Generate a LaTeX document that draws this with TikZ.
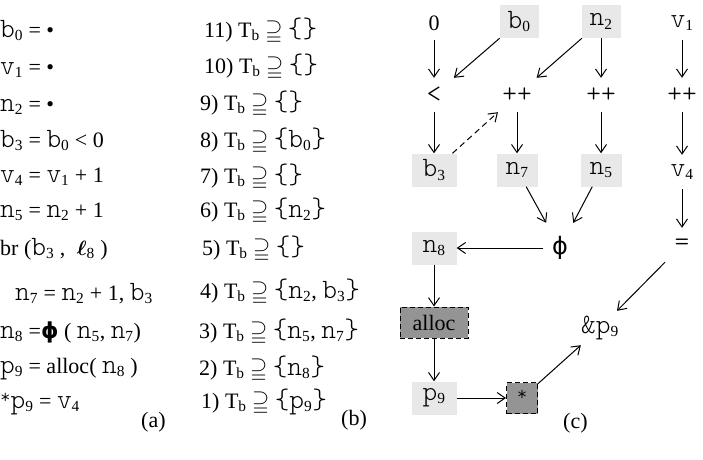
\documentclass[tikz,border=0pt]{standalone}
\usepackage{amssymb}
\usepackage{bm}
\usepackage{fontspec}
\setmainfont{Liberation Serif}
\newfontfamily\phifam{DejaVu Sans}
\usetikzlibrary{arrows.meta}
\newcommand\MT{\fontsize{28}{30}\ttfamily\fontseries{l}\selectfont}
\newcommand\VV[2]{{\MT #1}\textsubscript{#2}}
\newcommand\PHIB{{\phifam\bfseries ϕ}}
\newcommand\PHIR{{\phifam\fontsize{24}{26}\selectfont ϕ}}
\newcommand\SUPQ{$\supseteqq$}
\newcommand\LB{{\MT\{}}
\newcommand\RB{{\MT\}}}
\newcommand\AST{\raisebox{5pt}{\fontsize{20}{22}\ttfamily\fontseries{l}\selectfont*}}
\begin{document}
\begin{tikzpicture}[x=1pt,y=-1pt,font=\fontsize{22}{26}\selectfont,
  txt/.style={anchor=base west,inner sep=0pt},
  lbox/.style={fill=black!9,minimum height=33pt,inner sep=0pt},
  op/.style={minimum width=44pt,minimum height=34pt,inner sep=0pt},
  dbox/.style={fill=black!42,draw,dash pattern=on 5pt off 3pt,line width=1pt,inner sep=0pt,minimum height=31pt},
  arr/.style={-{Straight Barb[length=8pt,width=11pt]},line width=1pt}]
\useasboundingbox (0,0) rectangle (703,459);
% panel (a)
\node[txt] (a1) at (0,37) {\VV{b}{0} = \textbullet};
\node[txt] (a2) at (0,74) {\VV{v}{1} = \textbullet};
\node[txt] (a3) at (0,111) {\VV{n}{2} = \textbullet};
\node[txt] (a4) at (0,147) {\VV{b}{3} = \VV{b}{0} < 0};
\node[txt] (a5) at (0,182) {\VV{v}{4} = \VV{v}{1} + 1};
\node[txt] (a6) at (0,217) {\VV{n}{5} = \VV{n}{2} + 1};
\node[txt] (a7) at (0,255) {br (\VV{b}{3} ,\; {\boldmath$\ell$}\textsubscript{8} )};
\node[txt] (a8) at (15,300) {\VV{n}{7} = \VV{n}{2} + 1, \VV{b}{3}};
\node[txt] (a9) at (0,338) {\VV{n}{8} =\PHIB{} ( \VV{n}{5}, \VV{n}{7})};
\node[txt] (a10) at (0,373) {\VV{p}{9} = alloc( \VV{n}{8} )};
\node[txt] (a11) at (0,408) {\AST\VV{p}{9} = \VV{v}{4}};
\node[txt] (la) at (141,427) {(a)};
% panel (b)
\node[txt] (b11) at (204,37) {11) T\textsubscript{b} \SUPQ{} \LB\RB};
\node[txt] (b10) at (204,73) {10) T\textsubscript{b} \SUPQ{} \LB\RB};
\node[txt] (b9) at (200,110) {9) T\textsubscript{b} \SUPQ{} \LB\RB};
\node[txt] (b8) at (200,147) {8) T\textsubscript{b} \SUPQ{} \LB\VV{b}{0}\RB};
\node[txt] (b7) at (200,183) {7) T\textsubscript{b} \SUPQ{} \LB\RB};
\node[txt] (b6) at (200,217) {6) T\textsubscript{b} \SUPQ{} \LB\VV{n}{2}\RB};
\node[txt] (b5) at (202,255) {5) T\textsubscript{b} \SUPQ{} \LB\RB};
\node[txt] (b4) at (200,298) {4) T\textsubscript{b} \SUPQ{} \LB\VV{n}{2}, \VV{b}{3}\RB};
\node[txt] (b3l) at (199,338) {3) T\textsubscript{b} \SUPQ{} \LB\VV{n}{5}, \VV{n}{7}\RB};
\node[txt] (b2) at (199,375) {2) T\textsubscript{b} \SUPQ{} \LB\VV{n}{8}\RB};
\node[txt] (b1) at (201,408) {1) T\textsubscript{b} \SUPQ{} \LB\VV{p}{9}\RB};
\node[txt] (lb) at (341,425) {(b)};
% panel (c)
\node[op] (zero) at (434,23) {0};
\node[lbox,minimum width=39pt] (b0) at (519,21.5) {\VV{b}{0}};
\node[lbox,minimum width=39pt] (n2) at (601,21.5) {\VV{n}{2}};
\node[op] (v1) at (682,23) {\VV{v}{1}};
\node[op] (lt) at (434,95) {\MT <};
\node[op] (pp2) at (517,95) {\MT ++};
\node[op] (pp3) at (601,95) {\MT ++};
\node[op] (pp4) at (682,95) {\MT ++};
\node[lbox,minimum width=45pt] (b3) at (434,170) {\VV{b}{3}};
\node[lbox,minimum width=41pt] (n7) at (517,170) {\VV{n}{7}};
\node[lbox,minimum width=41pt] (n5) at (601,170) {\VV{n}{5}};
\node[op] (v4) at (682,172) {\VV{v}{4}};
\node[lbox,minimum width=45pt] (n8) at (434,248) {\VV{n}{8}};
\node[op,minimum width=34pt,minimum height=50pt] (phi) at (560,248) {\PHIR};
\node[op] (eq) at (682,245) {\MT =};
\node[dbox,minimum width=68pt] (alloc) at (434,322.5) {alloc};
\node[op] (ap9) at (600,328) {{\MT \&p}\textsubscript{9}};
\node[lbox,minimum width=45pt] (p9) at (434,398) {\VV{p}{9}};
\node[dbox,minimum width=31pt] (star) at (522,398) {\AST};
\node[txt] (lc) at (563,428) {(c)};
% connectors
\draw[arr] (zero) -- (lt);
\draw[arr] (b0) -- (lt);
\draw[arr] (n2) -- (pp2);
\draw[arr] (n2) -- (pp3);
\draw[arr] (v1) -- (pp4);
\draw[arr] (lt) -- (b3);
\draw[arr,dash pattern=on 6pt off 4pt] (b3) -- (pp2);
\draw[arr] (pp2) -- (n7);
\draw[arr] (pp3) -- (n5);
\draw[arr] (pp4) -- (v4);
\draw[arr] (n7) -- (phi);
\draw[arr] (n5) -- (phi);
\draw[arr] (v4) -- (eq);
\draw[arr] (phi) -- (n8);
\draw[arr] (eq) -- (ap9);
\draw[arr] (n8) -- (alloc);
\draw[arr] (alloc) -- (p9);
\draw[arr] (p9) -- (star);
\draw[arr] (star) -- (ap9);
\end{tikzpicture}
\end{document}
